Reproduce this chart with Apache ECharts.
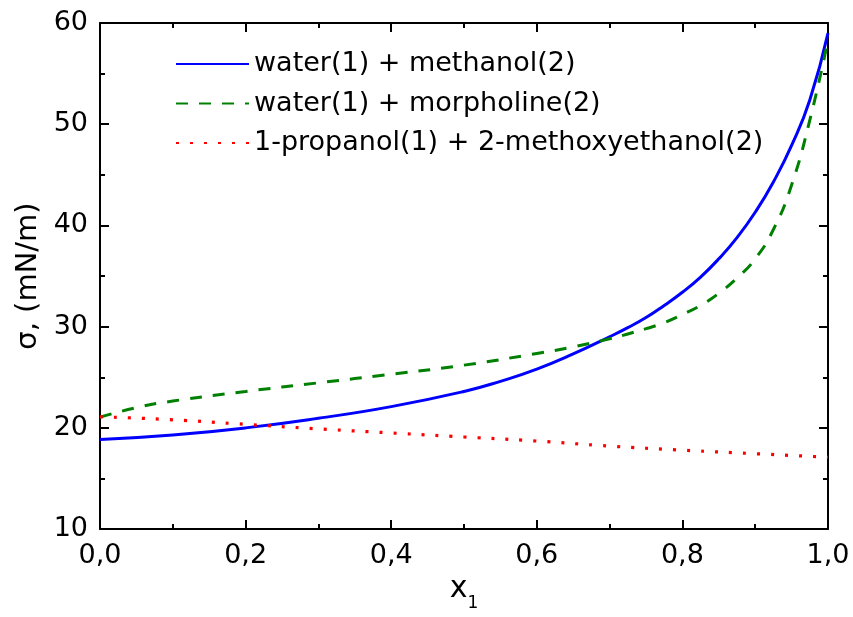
<!DOCTYPE html>
<html>
<head>
<meta charset="utf-8">
<script src="https://cdn.jsdelivr.net/npm/echarts@6/dist/echarts.min.js"></script>
<style>html,body{margin:0;padding:0;background:#fff;}#c{width:853px;height:617px;}</style>
</head>
<body>
<div id="c"></div>
<script>
const seriesNames = ['water(1) + methanol(2)', 'water(1) + morpholine(2)', '1-propanol(1) + 2-methoxyethanol(2)'];
const xMethanol = [0, 0.1, 0.2, 0.3, 0.4, 0.5, 0.55, 0.6, 0.65, 0.7, 0.725, 0.75, 0.775, 0.8, 0.825, 0.85, 0.875, 0.9, 0.925, 0.95, 0.975, 1.0];
const yMethanol = [18.85, 19.3, 20.0, 20.95, 22.1, 23.6, 24.6, 25.8, 27.3, 29.0, 29.9, 30.9, 32.1, 33.4, 34.9, 36.7, 38.8, 41.3, 44.3, 47.9, 52.4, 59.0];
const xMorpholine = [0, 0.05, 0.1, 0.2, 0.3, 0.4, 0.5, 0.6, 0.65, 0.7, 0.725, 0.75, 0.775, 0.8, 0.825, 0.85, 0.875, 0.9, 0.925, 0.95, 0.975, 1.0];
const yMorpholine = [21.05, 22.0, 22.65, 23.6, 24.45, 25.3, 26.2, 27.35, 28.0, 28.8, 29.28, 29.8, 30.4, 31.2, 32.1, 33.3, 34.8, 36.7, 39.6, 44.0, 50.4, 58.3];
const xPropanol = [0, 0.1, 0.2, 0.3, 0.4, 0.5, 0.6, 0.7, 0.8, 0.9, 1.0];
const yPropanol = [21.1, 20.8, 20.35, 19.9, 19.5, 19.1, 18.7, 18.2, 17.8, 17.45, 17.1];
const xTickLabels = ['0,0', '0,2', '0,4', '0,6', '0,8', '1,0'];
const yTickLabels = ['10', '20', '30', '40', '50', '60'];

const FONT = 'DejaVu Sans';
const pairs = (xs, ys) => xs.map((x, i) => [x, ys[i]]);

const axisBase = {
  axisLine: { show: true, onZero: false, lineStyle: { color: '#000', width: 2 } },
  axisTick: { show: true, inside: true, length: 9, lineStyle: { color: '#000', width: 2 } },
  minorTick: { show: true, splitNumber: 2, length: 5, lineStyle: { color: '#000', width: 2 } },
  splitLine: { show: false },
  minorSplitLine: { show: false }
};

const chart = echarts.init(document.getElementById('c'), null, { renderer: 'canvas' });
chart.setOption({
  animation: false,
  backgroundColor: '#fff',
  grid: { left: 100, right: 25, top: 23, bottom: 78, containLabel: false },
  legend: {
    left: 170, top: 44, orient: 'vertical',
    itemWidth: 73, itemHeight: 14, itemGap: 9.5,
    itemStyle: { color: 'transparent', borderWidth: 0, opacity: 0 },
    textStyle: { fontFamily: FONT, fontSize: 27, color: '#000', lineHeight: 30 },
    data: seriesNames
  },
  xAxis: [
    Object.assign({}, axisBase, {
      type: 'value', min: 0, max: 1, interval: 0.2, position: 'bottom',
      axisLabel: { margin: 13, fontFamily: FONT, fontSize: 27, color: '#000',
        formatter: v => xTickLabels[Math.round(v / 0.2)] },
      name: '{x|x}{s|1}', nameLocation: 'middle', nameGap: 40,
      nameTextStyle: { rich: {
        x: { fontFamily: FONT, fontSize: 30, color: '#000', verticalAlign: 'bottom' },
        s: { fontFamily: FONT, fontSize: 17, color: '#000', verticalAlign: 'bottom', padding: [0, 0, -8, 0] }
      } }
    }),
    Object.assign({}, axisBase, {
      type: 'value', min: 0, max: 1, interval: 0.2, position: 'top',
      axisLabel: { show: false }
    })
  ],
  yAxis: [
    Object.assign({}, axisBase, {
      type: 'value', min: 10, max: 60, interval: 10, position: 'left',
      axisLabel: { margin: 12, fontFamily: FONT, fontSize: 27, color: '#000',
        formatter: v => yTickLabels[Math.round((v - 10) / 10)] },
      name: 'σ, (mN/m)', nameLocation: 'middle', nameGap: 47, nameRotate: 90,
      nameTextStyle: { fontFamily: FONT, fontSize: 29, color: '#000' }
    }),
    Object.assign({}, axisBase, {
      type: 'value', min: 10, max: 60, interval: 10, position: 'right',
      axisLabel: { show: false }
    })
  ],
  series: [
    { name: seriesNames[0], type: 'line', smooth: 0.5, symbol: 'none', xAxisIndex: 0, yAxisIndex: 0,
      data: pairs(xMethanol, yMethanol), color: '#0000ff',
      lineStyle: { color: '#0000ff', width: 3 } },
    { name: seriesNames[1], type: 'line', smooth: 0.5, symbol: 'none', xAxisIndex: 0, yAxisIndex: 0,
      data: pairs(xMorpholine, yMorpholine), color: '#008000',
      lineStyle: { color: '#008000', width: 3, type: [12, 11] } },
    { name: seriesNames[2], type: 'line', smooth: 0.5, symbol: 'none', xAxisIndex: 0, yAxisIndex: 0,
      data: pairs(xPropanol, yPropanol), color: '#ff0000',
      lineStyle: { color: '#ff0000', width: 3.2, type: [3, 11] } }
  ]
});
</script>
</body>
</html>
